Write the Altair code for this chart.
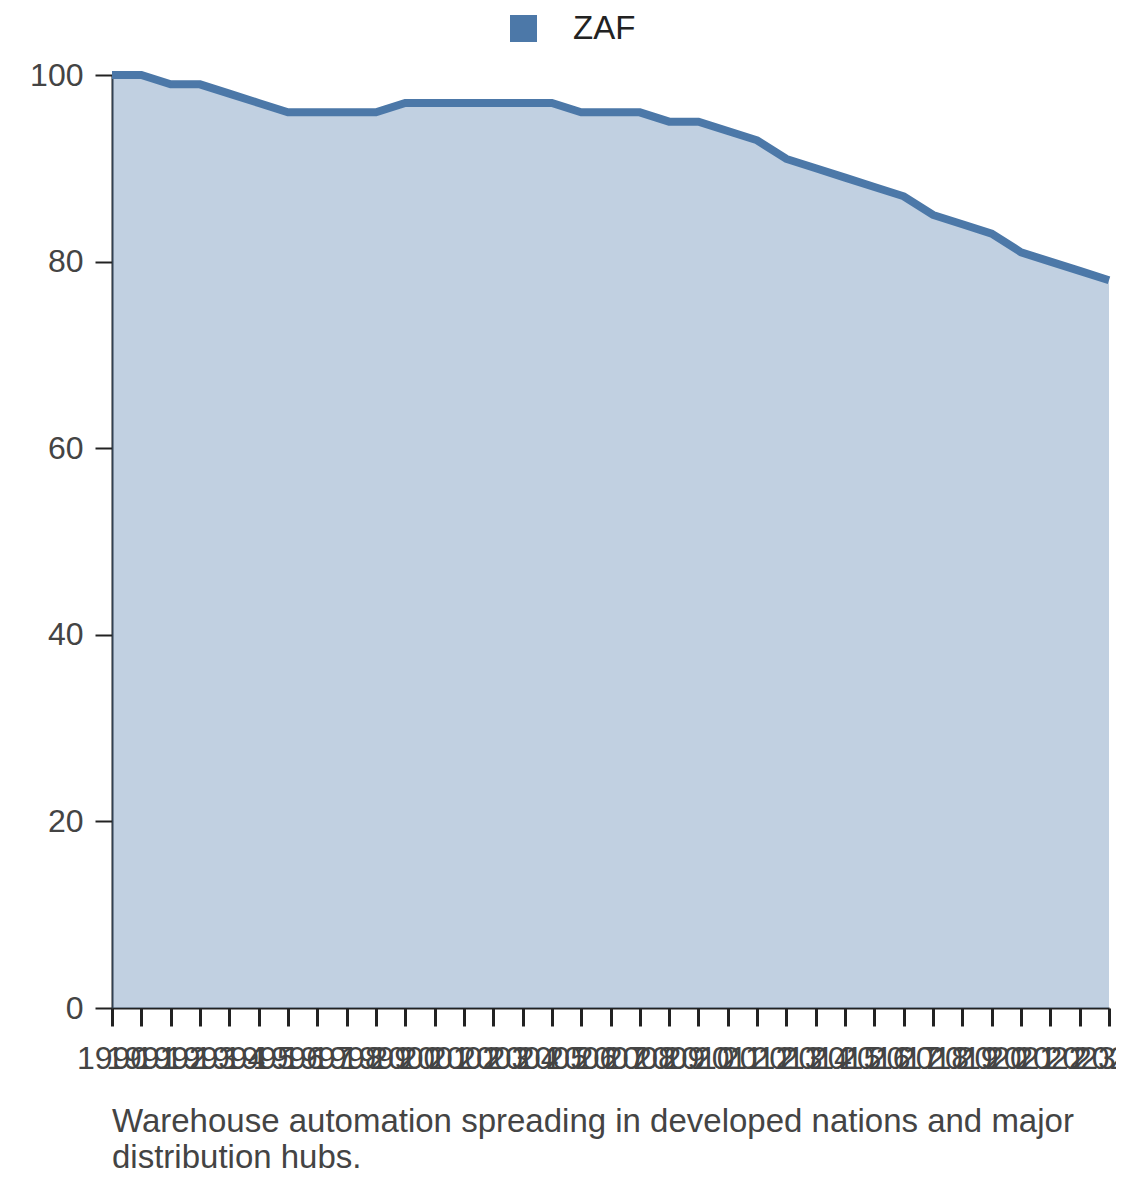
import altair as alt
import pandas as pd

years = list(range(1990, 2025))
values = [100, 100, 99, 99, 98, 97, 96, 96, 96, 96,
          97, 97, 97, 97, 97, 97, 96, 96, 96, 95,
          95, 94, 93, 91, 90, 89, 88, 87, 85, 84,
          83, 81, 80, 79, 78]
series = "ZAF"
caption = ["Warehouse automation spreading in developed nations and major",
           "distribution hubs."]

df = pd.DataFrame({"year": [str(y) for y in years], "value": values, "series": series})

FONT = "Liberation Sans"
x = alt.X("year:O", scale=alt.Scale(type="point", padding=0),
          axis=alt.Axis(title=None, labelAngle=0, labelOverlap=False, labelFontSize=32,
                        labelColor="#444444", tickSize=18, tickWidth=3, tickColor="#222222",
                        domainColor="#222222", domainWidth=2, labelPadding=17, labelFont=FONT))
y = alt.Y("value:Q", scale=alt.Scale(domain=[0, 100]),
          axis=alt.Axis(title=None, values=[0, 20, 40, 60, 80, 100], grid=False, labelFontSize=32,
                        labelColor="#444444", tickSize=17, tickWidth=2, tickColor="#222222",
                        domainColor="#222222", domainWidth=2, labelPadding=12, labelFont=FONT))
color = alt.Color("series:N", scale=alt.Scale(range=["#4c78a8"]),
                  legend=alt.Legend(title=None, orient="none", legendX=395, legendY=-63,
                                    symbolType="square", symbolSize=729, symbolOpacity=1,
                                    symbolStrokeWidth=0, labelFontSize=33, labelColor="#222222",
                                    labelOffset=33, labelFont=FONT))

area = alt.Chart(df).mark_area(fillOpacity=0.35).encode(x=x, y=y, color=color)
line = alt.Chart(df).mark_line(strokeWidth=8).encode(x=x, y=y, color=color)

chart = alt.layer(area, line).properties(
    width=997, height=933,
    autosize=alt.AutoSizeParams(type="none"),
    padding={"left": 104, "top": 67, "right": 7, "bottom": 166},
    title=alt.TitleParams(caption, orient="bottom", anchor="start", frame="group",
                          fontSize=33, font=FONT, fontWeight="normal", color="#444444",
                          offset=32, lineHeight=36),
).configure_view(stroke=None)

chart.save("out.html", embed_options={"renderer": "svg", "actions": False})
